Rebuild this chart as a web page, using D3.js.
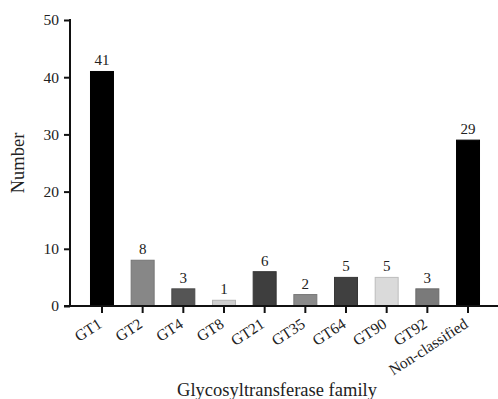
<!DOCTYPE html>
<html><head><meta charset="utf-8">
<script src="https://cdn.jsdelivr.net/npm/d3@7"></script>
<style>body{margin:0;background:#fff}svg text{font-family:"Liberation Serif","Times New Roman",serif;fill:#222}</style>
</head><body>
<svg id="c" width="498" height="399"></svg>
<script>
const categories = ["GT1","GT2","GT4","GT8","GT21","GT35","GT64","GT90","GT92","Non-classified"];
const values = [41,8,3,1,6,2,5,5,3,29];
const barColors = ["#000000","#878787","#555555","#cfcfcf","#3e3e3e","#8a8a8a","#404040","#dadada","#7a7a7a","#000000"];
const yTicks = [0,10,20,30,40,50];

const svg = d3.select("#c");
const x = d3.scaleBand().domain(categories).range([81.65, 488.35]).paddingInner(0.435).paddingOuter(0.2175);
const y = d3.scaleLinear().domain([0,50]).range([306,20]);

// bars
svg.selectAll("rect.bar").data(categories).enter().append("rect")
  .attr("x", d => x(d)).attr("width", x.bandwidth())
  .attr("y", (d,i) => y(values[i])).attr("height", (d,i) => y(0) - y(values[i]))
  .attr("fill", (d,i) => barColors[i])
  .attr("stroke", (d,i) => d3.color(barColors[i]).darker(0.4))
  .attr("stroke-width", 1);

// value labels
svg.selectAll("text.val").data(categories).enter().append("text")
  .attr("x", d => x(d) + x.bandwidth()/2)
  .attr("y", (d,i) => y(values[i]) - 6)
  .attr("text-anchor","middle").attr("font-size", 15)
  .text((d,i) => values[i]);

// y axis
const yAxis = svg.append("g").attr("transform","translate(70,0)")
  .call(d3.axisLeft(y).tickValues(yTicks).tickSize(6).tickPadding(5));
yAxis.select(".domain").remove();
yAxis.selectAll("line").attr("stroke","#111").attr("stroke-width",2);
yAxis.selectAll("text").attr("font-size",15.5).attr("font-family","Liberation Serif, serif").attr("fill","#222");
svg.append("line").attr("x1",70).attr("x2",70).attr("y1",y(50)-1).attr("y2",y(0)).attr("stroke","#111").attr("stroke-width",2);

// x axis
const xAxis = svg.append("g").attr("transform",`translate(0,${y(0)})`)
  .call(d3.axisBottom(x).tickSize(7).tickPadding(4));
xAxis.select(".domain").remove();
xAxis.selectAll("line").attr("stroke","#111").attr("stroke-width",2);
xAxis.selectAll("text").attr("font-size",15.5).attr("font-family","Liberation Serif, serif").attr("fill","#222")
  .attr("text-anchor","end").attr("x",0).attr("y",0).attr("dx",0).attr("dy","0.35em")
  .attr("transform","translate(-2,16) rotate(-33)");
svg.append("line").attr("x1",64).attr("x2",498).attr("y1",y(0)).attr("y2",y(0)).attr("stroke","#111").attr("stroke-width",2);

// axis titles
svg.append("text").attr("x",277).attr("y",396).attr("text-anchor","middle").attr("font-size",18.5).text("Glycosyltransferase family");
svg.append("text").attr("transform","translate(24,163) rotate(-90)").attr("text-anchor","middle").attr("font-size",18.5).text("Number");
</script>
</body></html>
